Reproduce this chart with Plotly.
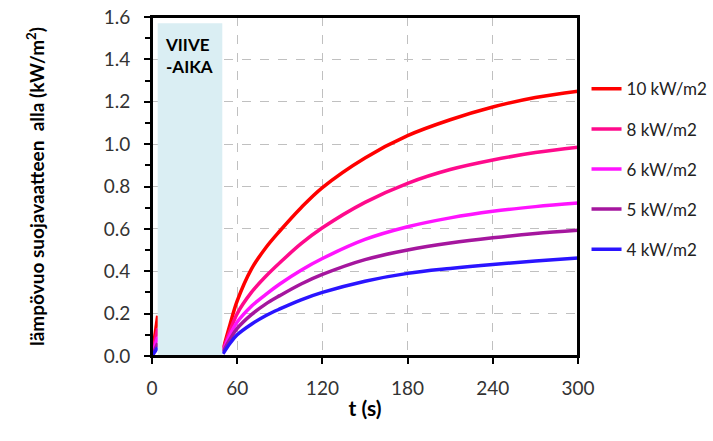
import plotly.graph_objects as go

# time axis (s): initial spike before delay, then curves after delay period
t_spike = [0, 4]
t_main = [50, 55, 60, 70, 80, 90, 105, 120, 150, 180, 210, 240, 270, 300]

series_names = ["10 kW/m2", "8 kW/m2", "6 kW/m2", "5 kW/m2", "4 kW/m2"]
spike_10 = [0.0, 0.19]
spike_8 = [0.0, 0.13]
spike_6 = [0.0, 0.09]
spike_5 = [0.0, 0.06]
spike_4 = [0.0, 0.04]

flux_10 = [0.03, 0.15, 0.26, 0.41, 0.51, 0.59, 0.70, 0.795, 0.935, 1.04, 1.115, 1.175, 1.22, 1.25]
flux_8 = [0.03, 0.12, 0.20, 0.30, 0.375, 0.44, 0.53, 0.605, 0.725, 0.815, 0.88, 0.925, 0.96, 0.985]
flux_6 = [0.02, 0.10, 0.16, 0.235, 0.29, 0.34, 0.405, 0.46, 0.55, 0.61, 0.652, 0.683, 0.705, 0.722]
flux_5 = [0.02, 0.08, 0.13, 0.195, 0.245, 0.285, 0.34, 0.385, 0.455, 0.50, 0.533, 0.558, 0.578, 0.593]
flux_4 = [0.01, 0.06, 0.10, 0.15, 0.19, 0.222, 0.265, 0.30, 0.353, 0.39, 0.413, 0.432, 0.448, 0.462]

delay_start, delay_end, delay_height = 4, 49.5, 1.57

x_ticks = [0, 60, 120, 180, 240, 300]
y_ticks = [0.0, 0.2, 0.4, 0.6, 0.8, 1.0, 1.2, 1.4, 1.6]

colors = ["#FF0000", "#FF0A8C", "#FF14FF", "#A5169E", "#2A14FF"]
spikes = [spike_10, spike_8, spike_6, spike_5, spike_4]
fluxes = [flux_10, flux_8, flux_6, flux_5, flux_4]

FONT = "Lato, 'Open Sans', sans-serif"

fig = go.Figure()
for name, col, sp, fl in zip(series_names, colors, spikes, fluxes):
    fig.add_trace(go.Scatter(
        x=t_spike + [None] + t_main,
        y=sp + [None] + fl,
        mode="lines", name=name, legendgroup=name,
        line=dict(color=col, width=3.5, shape="spline", smoothing=1.0),
        connectgaps=False,
    ))

fig.add_shape(type="rect", xref="x", yref="y",
              x0=delay_start, x1=delay_end, y0=0, y1=delay_height,
              fillcolor="#DAEEF3", line=dict(width=0), layer="above")
# plot-area frame
fig.add_shape(type="rect", xref="paper", yref="paper", x0=0, x1=1, y0=0, y1=1,
              line=dict(color="#000", width=2), fillcolor="rgba(0,0,0,0)", layer="above")
fig.add_annotation(xref="x", yref="y", x=delay_start + 4, y=1.53,
                   text="<b>VIIVE<br>-AIKA</b>", showarrow=False,
                   xanchor="left", yanchor="top", align="left",
                   font=dict(family=FONT, size=17, color="#000"))

axis_common = dict(showline=True, linecolor="#000", linewidth=2, mirror=True,
                   showgrid=True, gridcolor="#C0C0C0", griddash="dash", gridwidth=1,
                   zeroline=False, ticks="outside", ticklen=6, tickwidth=2, tickcolor="#000",
                   automargin=False, ticklabeloverflow="allow",
                   tickfont=dict(family=FONT, size=19, color="#333"))

fig.update_xaxes(range=[0, 300], tickvals=x_ticks, ticklabelstandoff=8, **axis_common,
                 title=dict(text="<b>t (s)</b>", font=dict(family=FONT, size=21, color="#000"), standoff=4))
fig.update_yaxes(range=[0, 1.6], tickvals=y_ticks, tickformat=".1f", ticklabelstandoff=10, **axis_common,
                 minor=dict(dtick=0.1, ticks="outside", ticklen=5, tickcolor="#000", showgrid=False),
                 title=dict(text="<b>lämpövuo suojavaatteen\u00a0 alla (kW/m<sup>2</sup>)</b>",
                            font=dict(family=FONT, size=19, color="#000"), standoff=54))

fig.update_layout(
    width=713, height=441,
    margin=dict(l=152, r=135, t=17, b=85, autoexpand=False),
    plot_bgcolor="white", paper_bgcolor="white",
    legend=dict(x=1.02, y=0.84, xanchor="left", yanchor="top",
                font=dict(family=FONT, size=17, color="#222"),
                tracegroupgap=15, bgcolor="rgba(0,0,0,0)"),
)

fig.write_html("out.html", config={"displayModeBar": False},
               post_script="document.body.style.margin='0';document.body.style.overflow='hidden';")
